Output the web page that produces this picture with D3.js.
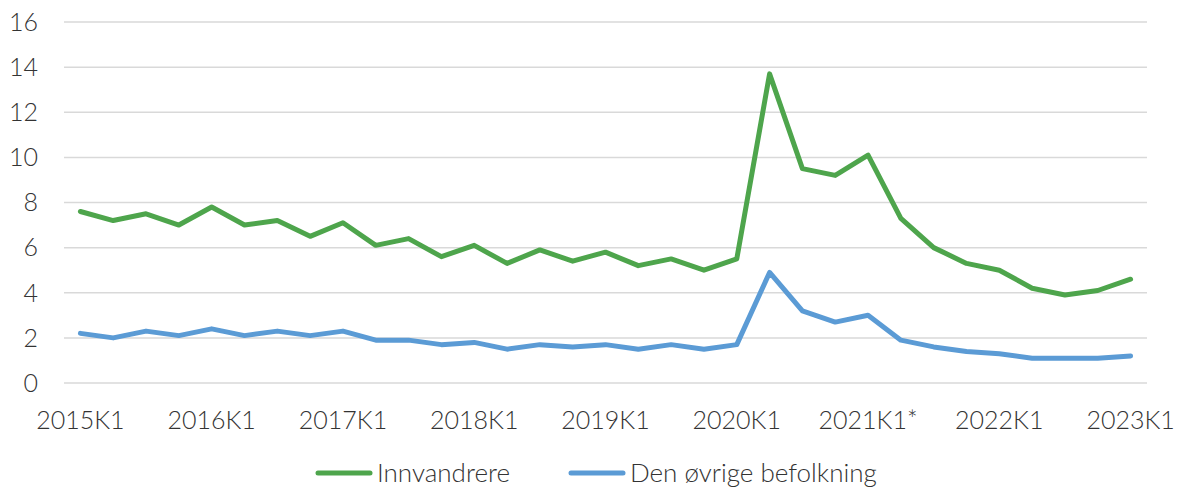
<!DOCTYPE html>
<html>
<head>
<meta charset="utf-8">
<script src="https://cdn.jsdelivr.net/npm/d3@7"></script>
<style>
  body { margin: 0; background: #fff; }
  svg text { font-family: Lato, "Open Sans", sans-serif; font-weight: 300; fill: #333; }
</style>
</head>
<body>
<svg width="1178" height="489"></svg>
<script>
// quarters 2015K1 .. 2023K1
let quarters = [];
for (let y = 2015; y <= 2023; y++) {
  for (let q = 1; q <= 4; q++) {
    if (y === 2023 && q > 1) break;
    quarters.push(y + 'K' + q);
  }
}
let tickLabels = ['2015K1', '2016K1', '2017K1', '2018K1', '2019K1', '2020K1', '2021K1*', '2022K1', '2023K1'];

let innvandrere = [7.6, 7.2, 7.5, 7.0, 7.8, 7.0, 7.2, 6.5, 7.1, 6.1, 6.4, 5.6, 6.1, 5.3, 5.9, 5.4,
  5.8, 5.2, 5.5, 5.0, 5.5, 13.7, 9.5, 9.2, 10.1, 7.3, 6.0, 5.3, 5.0, 4.2, 3.9, 4.1, 4.6];
let ovrige = [2.2, 2.0, 2.3, 2.1, 2.4, 2.1, 2.3, 2.1, 2.3, 1.9, 1.9, 1.7, 1.8, 1.5, 1.7, 1.6,
  1.7, 1.5, 1.7, 1.5, 1.7, 4.9, 3.2, 2.7, 3.0, 1.9, 1.6, 1.4, 1.3, 1.1, 1.1, 1.1, 1.2];
let yTicks = [0, 2, 4, 6, 8, 10, 12, 14, 16];

let series = [
  { name: 'Innvandrere', values: innvandrere, color: '#4ea54c' },
  { name: 'Den øvrige befolkning', values: ovrige, color: '#5b9bd5' }
];

let svg = d3.select('svg');

let x = d3.scaleBand()
  .domain(quarters)
  .range([64, 1147]);

let y = d3.scaleLinear()
  .domain([0, 16])
  .range([383, 22]);

// gridlines
svg.append('g')
  .selectAll('line')
  .data(yTicks)
  .enter()
  .append('line')
  .attr('x1', 64)
  .attr('x2', 1147)
  .attr('y1', d => y(d))
  .attr('y2', d => y(d))
  .attr('stroke', '#d9d9d9')
  .attr('stroke-width', 1.5);

// y labels
svg.append('g')
  .selectAll('text')
  .data(yTicks)
  .enter()
  .append('text')
  .attr('x', 38)
  .attr('y', d => y(d))
  .attr('dy', '0.35em')
  .attr('text-anchor', 'end')
  .style('font-size', '25px')
  .text(d => d);

// x labels
svg.append('g')
  .selectAll('text')
  .data(tickLabels)
  .enter()
  .append('text')
  .attr('x', (d, i) => x(quarters[i * 4]) + x.bandwidth() / 2)
  .attr('y', 420)
  .attr('dy', '0.35em')
  .attr('text-anchor', 'middle')
  .style('font-size', '25px')
  .text(d => d);

let line = d3.line()
  .x((d, i) => x(quarters[i]) + x.bandwidth() / 2)
  .y(d => y(d));

svg.append('g')
  .selectAll('path')
  .data(series)
  .enter()
  .append('path')
  .attr('d', d => line(d.values))
  .attr('fill', 'none')
  .attr('stroke', d => d.color)
  .attr('stroke-width', 5)
  .attr('stroke-linejoin', 'round')
  .attr('stroke-linecap', 'round');

// legend
let legendX = [316, 569];
let legend = svg.append('g')
  .selectAll('g')
  .data(series)
  .enter()
  .append('g')
  .attr('transform', (d, i) => `translate(${legendX[i]},473)`);

legend.append('line')
  .attr('x1', 2)
  .attr('x2', 54)
  .attr('stroke', d => d.color)
  .attr('stroke-width', 5)
  .attr('stroke-linecap', 'round');

legend.append('text')
  .attr('x', 61)
  .attr('dy', '0.35em')
  .style('font-size', '26px')
  .text(d => d.name);
</script>
</body>
</html>
